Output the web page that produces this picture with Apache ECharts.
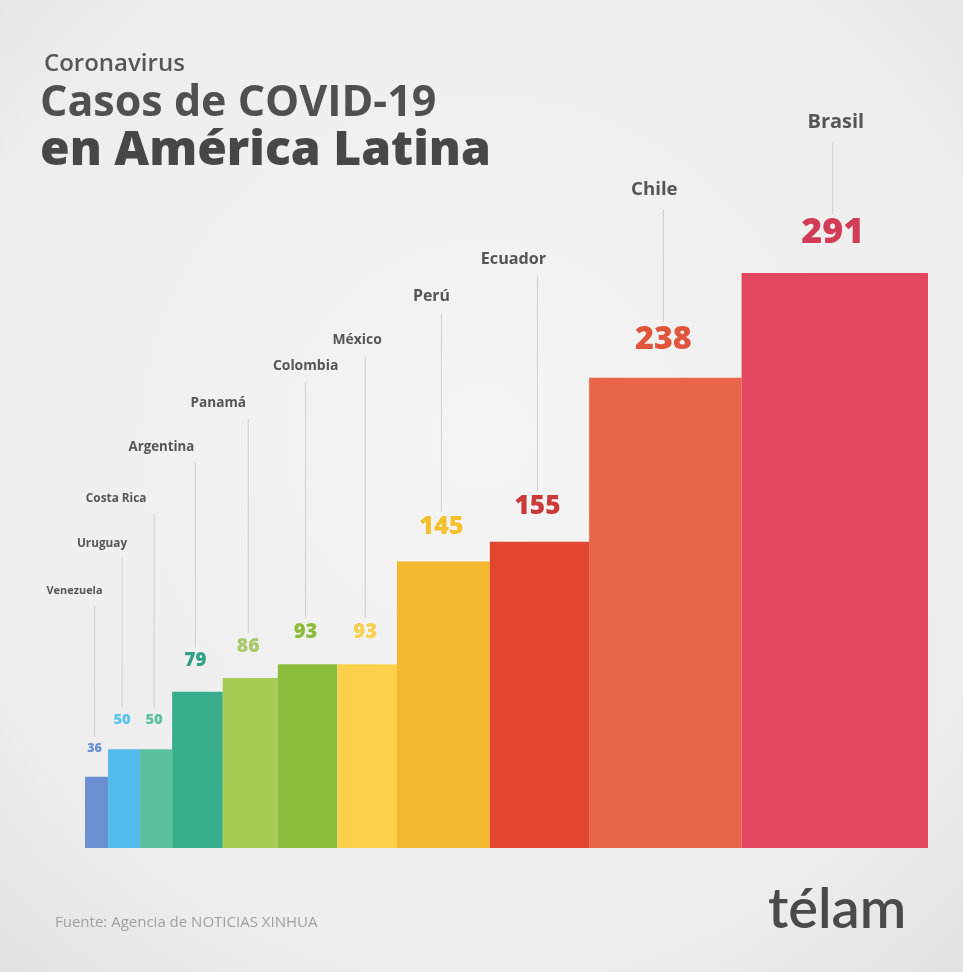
<!DOCTYPE html>
<html><head><meta charset="utf-8">
<script src="https://cdn.jsdelivr.net/npm/echarts@6/dist/echarts.min.js"></script>
<style>html,body{margin:0;padding:0;background:#eaeaea}#c{width:963px;height:972px;}</style>
</head><body><div id="c"></div>
<script>
// ---- data ----
const countries = ['Venezuela','Uruguay','Costa Rica','Argentina','Panamá','Colombia','México','Perú','Ecuador','Chile','Brasil'];
const cases = [36,50,50,79,86,93,93,145,155,238,291];

// ---- styles / annotation layout (not data) ----
const barColors = ['#6b8fd0','#52baea','#5cbf9f','#37ad8c','#a6cb55','#8bbd3c','#fcd04b','#f4b730','#e2462f','#e8654a','#e4455f'];
const labelColors = ['#6a8fd0','#5cc0ea','#5cbfa0','#2f9f86','#a8c96a','#8cbd3a','#f7d04e','#f5c030','#c93a3a','#e0553c','#d23c56'];
const nameLevels = [130,154,177,203,225,244,257,279,298,333,367]; // name label heights, in axis units
const nameShiftX = [-20,-20,-38,-34,-30,0,-8,-10,-24,-9,3];       // name label nudges, px

// x extent of each bar: width proportional to cases
const starts = [];
let acc = 0;
cases.forEach(v => { starts.push(acc); acc += v; });
const total = acc;
const items = cases.map((v, i) => [starts[i], starts[i] + v, v, i]);

const FONT = '"Open Sans", "Noto Sans", sans-serif';

const chart = echarts.init(document.getElementById('c'), null, {renderer: 'canvas'});
chart.setOption({
  backgroundColor: {
    type: 'radial', x: 0.5, y: 0.45, r: 0.8,
    colorStops: [{offset: 0, color: '#f4f4f4'}, {offset: 0.7, color: '#ededed'}, {offset: 1, color: '#dedede'}]
  },
  animation: false,
  grid: {left: 85, right: 35, top: 97, bottom: 124},
  xAxis: {type: 'value', min: 0, max: total, show: false},
  yAxis: {type: 'value', min: 0, max: 380, show: false},
  series: [{
    type: 'custom',
    data: items,
    encode: {x: [0, 1], y: 2},
    renderItem: function (params, api) {
      const i = api.value(3);
      const v = api.value(2);
      const p0 = api.coord([api.value(0), v]);
      const p1 = api.coord([api.value(1), 0]);
      const cx = (p0[0] + p1[0]) / 2 - 2;
      const vfs = 2.1 * Math.sqrt(v);
      const nfs = 6 + 0.82 * Math.sqrt(v);
      const valBottom = p0[1] - 22;
      const valTop = valBottom - vfs * 0.78;
      const nameY = api.coord([0, nameLevels[i]])[1];
      return {
        type: 'group',
        children: [
          {
            type: 'rect',
            shape: {x: p0[0], y: p0[1], width: p1[0] - p0[0], height: p1[1] - p0[1]},
            style: {fill: barColors[i]}
          },
          {
            type: 'line',
            shape: {x1: cx, y1: nameY + nfs * 0.6 + 8, x2: cx, y2: valTop - 8},
            style: {stroke: '#cfcfcf', lineWidth: 1}
          },
          {
            type: 'text',
            x: cx, y: valBottom,
            style: {
              text: String(v), fill: labelColors[i], fontFamily: FONT, fontWeight: 800,
              fontSize: vfs, align: 'center', verticalAlign: 'bottom',
              shadowBlur: 8, shadowColor: 'rgba(255,255,255,1)'
            }
          },
          {
            type: 'text',
            x: cx + nameShiftX[i], y: nameY,
            style: {
              text: countries[i], fill: '#555555', fontFamily: FONT, fontWeight: 700,
              fontSize: nfs, align: 'center', verticalAlign: 'middle'
            }
          }
        ]
      };
    }
  }],
  graphic: [
    {type: 'text', left: 44, top: 52, style: {text: 'Coronavirus', fill: '#575757', fontFamily: FONT, fontWeight: 600, fontSize: 24}},
    {type: 'text', left: 40, top: 82, style: {text: 'Casos de COVID-19', fill: '#505050', fontFamily: FONT, fontWeight: 700, fontSize: 43}},
    {type: 'text', left: 40, top: 127, style: {text: 'en América Latina', fill: '#474747', fontFamily: FONT, fontWeight: 800, fontSize: 48}},
    {type: 'text', left: 55, top: 915, style: {text: 'Fuente: Agencia de NOTICIAS XINHUA', fill: '#a0a0a0', fontFamily: FONT, fontSize: 15}},
    {type: 'text', left: 768, top: 882, style: {text: 'télam', fill: '#4a4a4a', fontFamily: 'Lato, "Open Sans", sans-serif', fontWeight: 600, fontSize: 56}}
  ]
});
</script>
</body></html>
